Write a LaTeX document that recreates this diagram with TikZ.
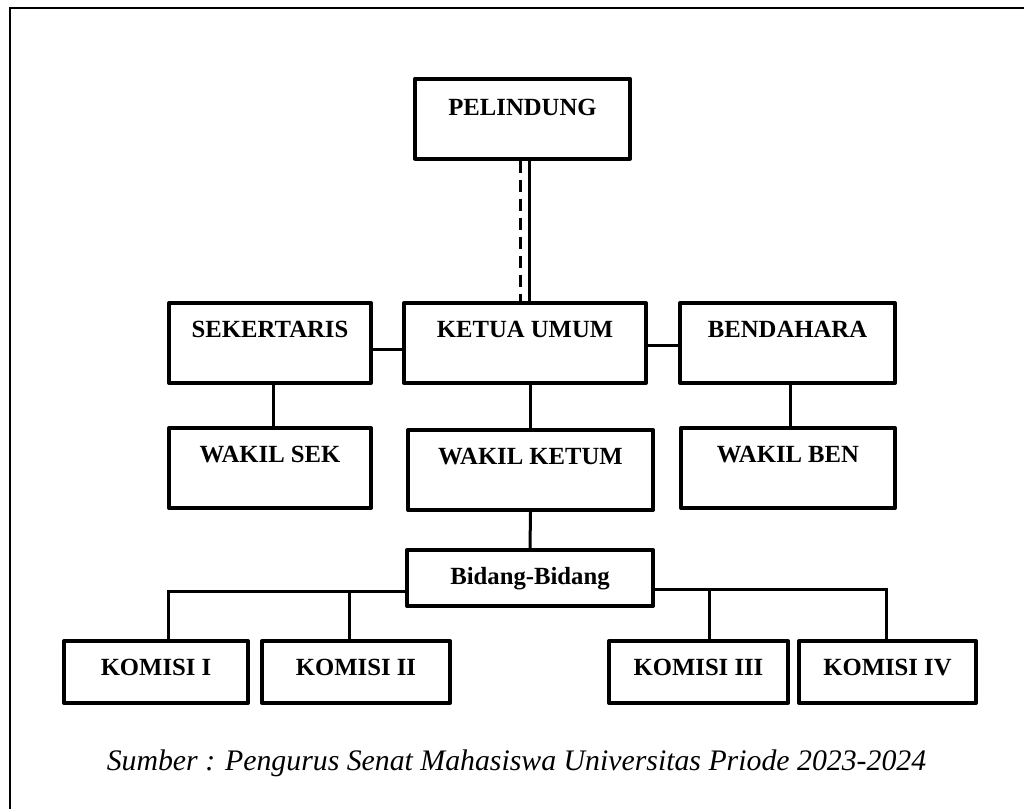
\documentclass[tikz,border=0pt]{standalone}
\usepackage{fontspec}
\setmainfont{Liberation Serif}
\usepackage{tikz}
\usetikzlibrary{positioning}
\pgfdeclarelayer{edgelayer}
\pgfdeclarelayer{nodelayer}
\pgfsetlayers{edgelayer,nodelayer,main}
\tikzstyle{none}=[inner sep=0pt]
\tikzstyle{office}=[rectangle,draw=black,line width=4pt,line join=round,inner sep=0pt,text height=34pt,text depth=46pt,font=\fontsize{24.7}{29}\selectfont\bfseries]
\tikzstyle{bidang}=[office,text depth=22pt]
\tikzstyle{komisi}=[office,text depth=28pt]
\tikzstyle{link}=[-,draw=black,line width=3pt]
\tikzstyle{dashlink}=[-,draw=black,line width=3pt,dash pattern=on 12pt off 7pt]
\tikzstyle{frame}=[-,draw=black,line width=2.5pt]
\tikzstyle{caption}=[inner sep=0pt,anchor=base,font=\fontsize{29.8}{34}\selectfont\itshape]

\begin{document}
\begin{tikzpicture}[x=1pt,y=-1pt]
	\useasboundingbox (0,0) rectangle (1024,808);
	\begin{pgfonlayer}{nodelayer}
		\node [style=office, minimum width=215pt, text height=37pt, text depth=43pt] (P) at (522.5,118.5) {PELINDUNG};
		\node [style=office, minimum width=202pt] (S) at (270,343) {SEKERTARIS};
		\node [style=office, minimum width=242pt] (K) at (525,343) {KETUA UMUM};
		\node [style=office, minimum width=215pt] (B) at (787.5,343) {BENDAHARA};
		\node [style=office, minimum width=202pt] (WS) at (270,468) {WAKIL SEK};
		\node [style=office, minimum width=245pt] (WK) at (530.5,470) {WAKIL KETUM};
		\node [style=office, minimum width=214pt] (WB) at (788,468) {WAKIL BEN};
		\node [style=bidang, minimum width=246pt] (Bid) at (530,578) {Bidang-Bidang};
		\node [style=komisi, minimum width=184pt] (K1) at (156,672) {KOMISI I};
		\node [style=komisi, minimum width=188pt] (K2) at (356,672) {KOMISI II};
		\node [style=komisi, minimum width=179pt] (K3) at (698.5,672) {KOMISI III};
		\node [style=komisi, minimum width=177pt] (K4) at (887.5,672) {KOMISI IV};
	\end{pgfonlayer}
	\begin{pgfonlayer}{edgelayer}
		\draw [style=dashlink] ([xshift=-2.5pt]P.south) to ([xshift=-2.5pt]P.south |- K.north);
		\draw [style=link] ([xshift=6.5pt]P.south) to ([xshift=6.5pt]P.south |- K.north);
		\draw [style=link] ([yshift=-6pt]S.east) to ([yshift=-6pt]S.east -| K.west);
		\draw [style=link] ([yshift=-2pt]K.east) to ([yshift=-2pt]K.east -| B.west);
		\draw [style=link] ([xshift=3pt]S.south) to ([xshift=3pt]S.south |- WS.north);
		\draw [style=link] (WK.north |- K.south) to (WK.north);
		\draw [style=link] ([xshift=2.5pt]B.south) to ([xshift=2.5pt]B.south |- WB.north);
		\draw [style=link] (WK.south) to (Bid.north);
		\draw [style=link] ([yshift=-13pt]Bid.west) -| ([xshift=12pt]K1.north);
		\draw [style=link] ([xshift=-7pt]K2.north) |- ([yshift=-13pt]Bid.west);
		\draw [style=link] ([yshift=-11pt]Bid.east) -| ([xshift=-1.5pt]K4.north);
		\draw [style=link] ([xshift=10.5pt]K3.north) |- ([yshift=-11pt]Bid.east);
	\end{pgfonlayer}
	\draw [style=frame] (1030,8) -| (10,815);
	\node [style=caption] (src) at (516.5,770) {Sumber : Pengurus Senat Mahasiswa Universitas Priode 2023-2024};
\end{tikzpicture}
\end{document}
